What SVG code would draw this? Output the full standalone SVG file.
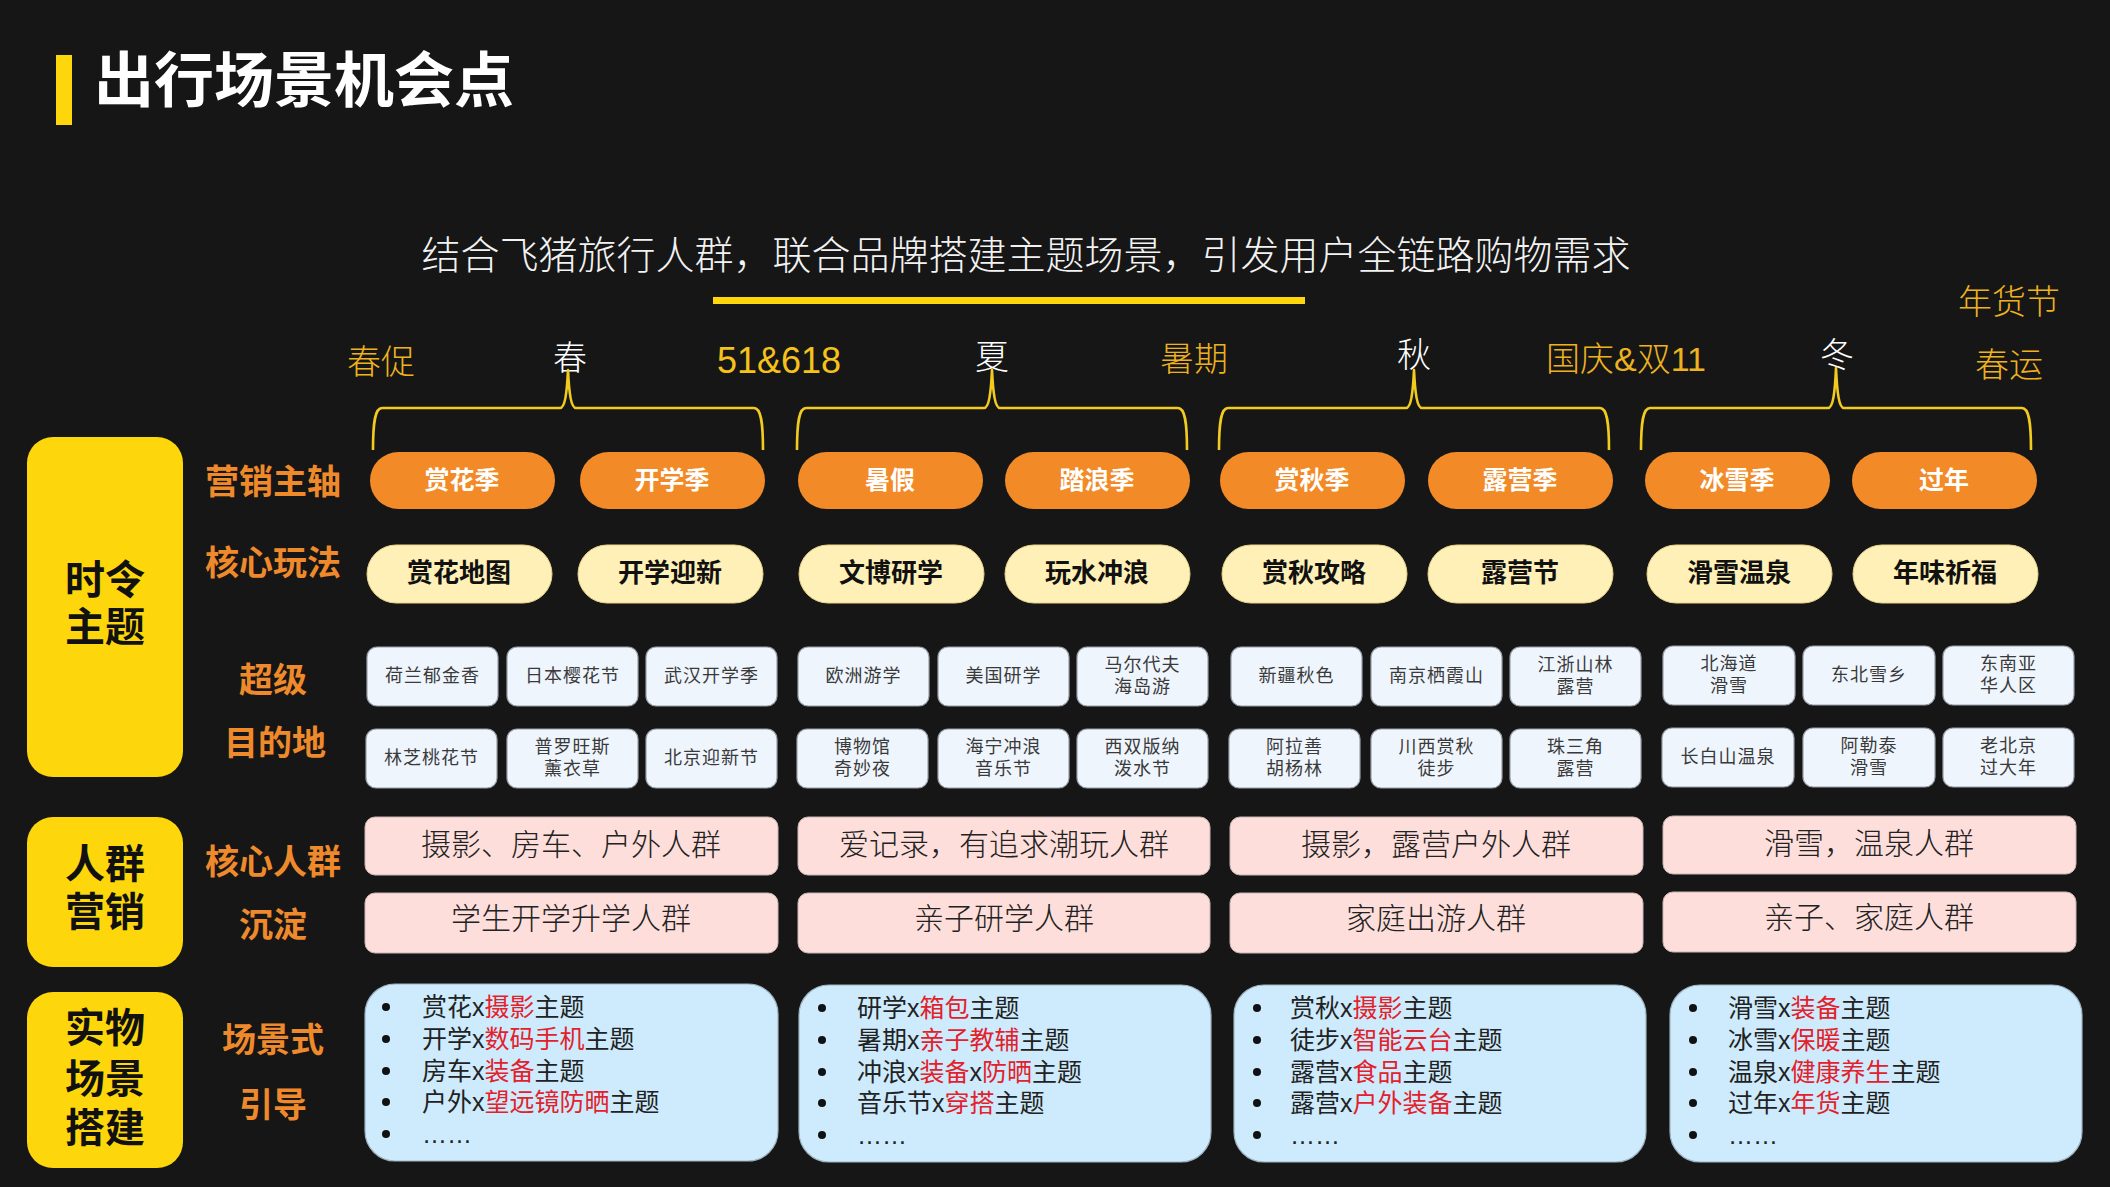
<svg xmlns="http://www.w3.org/2000/svg" width="2110" height="1187" viewBox="0 0 2110 1187">
<style>
text{font-family:"Liberation Sans","Noto Sans CJK SC",sans-serif}
.c{text-anchor:middle;dominant-baseline:central}
.title{font-size:60px;font-weight:700;fill:#fff}
.sub{font-size:39px;font-weight:300;fill:#f2f2f2}
.season{font-size:34px;font-weight:300;fill:#ffffff}
.promo{font-size:34px;font-weight:300;fill:#EDB21E}
.promo2{font-size:36px;fill:#F5C11B}
.lab{font-size:34px;font-weight:700;fill:#EE8A2B}
.big{font-size:40px;font-weight:700;fill:#111}
.ybox{fill:#FDD60B}
.op{fill:#F28A27}
.opt{font-size:25px;font-weight:700;fill:#fff}
.lp{fill:#FEF0B6;stroke:#E8D48A;stroke-width:1}
.lpt{font-size:26px;font-weight:700;fill:#111}
.dest{fill:#EFF5FD;stroke:#9aa0a8;stroke-width:1.2}
.dt{font-size:18px;fill:#3a3a3a;letter-spacing:1px}
.pink{fill:#FDDEDB;stroke:#c9b5b3;stroke-width:1}
.pt{font-size:30px;font-weight:300;fill:#222}
.list{fill:#CDEBFC;stroke:#9fb4c2;stroke-width:1.2}
.lt{font-size:25px;fill:#222}
.r{fill:#E3212B}
.brace{fill:none;stroke:#F2CB1F;stroke-width:2.6;stroke-linejoin:round}
</style>
<rect x="0" y="0" width="2110" height="1187" fill="#161616"/>

<g id="title">
<rect x="56" y="55" width="16" height="70" fill="#FDD60B"/>
<text class="title" x="94" y="102">出行场景机会点</text>
</g>
<g id="subtitle">
<text class="sub c" x="1026" y="255">结合飞猪旅行人群，联合品牌搭建主题场景，引发用户全链路购物需求</text>
<rect x="713" y="297" width="592" height="7" fill="#FDD60B"/>
</g>

<g id="season-labels">
<text class="promo c" x="381" y="362">春促</text>
<text class="season c" x="570" y="358">春</text>
<text class="promo2 c" x="779" y="360">51&amp;618</text>
<text class="season c" x="992" y="357">夏</text>
<text class="promo c" x="1194" y="359">暑期</text>
<text class="season c" x="1414" y="355">秋</text>
<text class="promo c" x="1626" y="359">国庆&amp;双11</text>
<text class="season c" x="1837" y="355">冬</text>
<text class="promo c" x="2009" y="302">年货节</text>
<text class="promo c" x="2009" y="365">春运</text>
</g>

<g id="connectors">
<path class="brace" d="M373,450 C373,422 375,408 382,408 L560,408 C565,408 567,392 568,370 C569,392 571,408 576,408 L754,408 C761,408 763,422 763,450"/>
<path class="brace" d="M797,450 C797,422 799,408 806,408 L984,408 C989,408 991,392 992,370 C993,392 995,408 1000,408 L1178,408 C1185,408 1187,422 1187,450"/>
<path class="brace" d="M1219,450 C1219,422 1221,408 1228,408 L1406,408 C1411,408 1413,392 1414,370 C1415,392 1417,408 1422,408 L1600,408 C1607,408 1609,422 1609,450"/>
<path class="brace" d="M1641,450 C1641,422 1643,408 1650,408 L1828,408 C1833,408 1835,392 1836,368 C1837,392 1839,408 1844,408 L2022,408 C2029,408 2031,422 2031,450"/>
</g>

<g id="left-category-boxes">
<g id="cat-shiling">
<rect class="ybox" x="27" y="437" width="156" height="340" rx="26"/>
<text class="big c" x="105" y="580">时令</text>
<text class="big c" x="105" y="627">主题</text>
</g>
<g id="cat-renqun">
<rect class="ybox" x="27" y="817" width="156" height="150" rx="26"/>
<text class="big c" x="105" y="864">人群</text>
<text class="big c" x="105" y="912">营销</text>
</g>
<g id="cat-shiwu">
<rect class="ybox" x="27" y="992" width="156" height="176" rx="26"/>
<text class="big c" x="105" y="1028">实物</text>
<text class="big c" x="105" y="1079">场景</text>
<text class="big c" x="105" y="1128">搭建</text>
</g>
</g>

<g id="row-labels">
<text class="lab c" x="273" y="482">营销主轴</text>
<text class="lab c" x="273" y="563">核心玩法</text>
<text class="lab c" x="273" y="680">超级</text>
<text class="lab c" x="275" y="743">目的地</text>
<text class="lab c" x="273" y="862">核心人群</text>
<text class="lab c" x="273" y="925">沉淀</text>
<text class="lab c" x="273" y="1040">场景式</text>
<text class="lab c" x="273" y="1105">引导</text>
</g>

<g id="marketing-axis">
<g id="ma1"><rect class="op" x="370" y="452" width="185" height="57" rx="28.5"/><text class="opt c" x="462" y="480">赏花季</text></g>
<g id="ma2"><rect class="op" x="580" y="452" width="185" height="57" rx="28.5"/><text class="opt c" x="672" y="480">开学季</text></g>
<g id="ma3"><rect class="op" x="798" y="452" width="185" height="57" rx="28.5"/><text class="opt c" x="890" y="480">暑假</text></g>
<g id="ma4"><rect class="op" x="1005" y="452" width="185" height="57" rx="28.5"/><text class="opt c" x="1097" y="480">踏浪季</text></g>
<g id="ma5"><rect class="op" x="1220" y="452" width="185" height="57" rx="28.5"/><text class="opt c" x="1312" y="480">赏秋季</text></g>
<g id="ma6"><rect class="op" x="1428" y="452" width="185" height="57" rx="28.5"/><text class="opt c" x="1520" y="480">露营季</text></g>
<g id="ma7"><rect class="op" x="1645" y="452" width="185" height="57" rx="28.5"/><text class="opt c" x="1737" y="480">冰雪季</text></g>
<g id="ma8"><rect class="op" x="1852" y="452" width="185" height="57" rx="28.5"/><text class="opt c" x="1944" y="480">过年</text></g>
</g>

<g id="core-play">
<g id="cp1"><rect class="lp" x="367" y="545" width="185" height="58" rx="29"/><text class="lpt c" x="459" y="573">赏花地图</text></g>
<g id="cp2"><rect class="lp" x="578" y="545" width="185" height="58" rx="29"/><text class="lpt c" x="670" y="573">开学迎新</text></g>
<g id="cp3"><rect class="lp" x="799" y="545" width="185" height="58" rx="29"/><text class="lpt c" x="891" y="573">文博研学</text></g>
<g id="cp4"><rect class="lp" x="1005" y="545" width="185" height="58" rx="29"/><text class="lpt c" x="1097" y="573">玩水冲浪</text></g>
<g id="cp5"><rect class="lp" x="1222" y="545" width="185" height="58" rx="29"/><text class="lpt c" x="1314" y="573">赏秋攻略</text></g>
<g id="cp6"><rect class="lp" x="1428" y="545" width="185" height="58" rx="29"/><text class="lpt c" x="1520" y="573">露营节</text></g>
<g id="cp7"><rect class="lp" x="1647" y="545" width="185" height="58" rx="29"/><text class="lpt c" x="1739" y="573">滑雪温泉</text></g>
<g id="cp8"><rect class="lp" x="1853" y="545" width="185" height="58" rx="29"/><text class="lpt c" x="1945" y="573">年味祈福</text></g>
</g>

<g id="destinations">
<g id="d1"><rect class="dest" x="367" y="647" width="131" height="59" rx="10"/><text class="dt c" x="432.5" y="676">荷兰郁金香</text></g>
<g id="d2"><rect class="dest" x="507" y="647" width="131" height="59" rx="10"/><text class="dt c" x="572.5" y="676">日本樱花节</text></g>
<g id="d3"><rect class="dest" x="646" y="647" width="131" height="59" rx="10"/><text class="dt c" x="711.5" y="676">武汉开学季</text></g>
<g id="d4"><rect class="dest" x="366" y="729" width="131" height="59" rx="10"/><text class="dt c" x="431.5" y="758">林芝桃花节</text></g>
<g id="d5"><rect class="dest" x="507" y="729" width="131" height="59" rx="10"/><text class="dt c" x="572.5" y="747">普罗旺斯</text><text class="dt c" x="572.5" y="769">薰衣草</text></g>
<g id="d6"><rect class="dest" x="646" y="729" width="131" height="59" rx="10"/><text class="dt c" x="711.5" y="758">北京迎新节</text></g>

<g id="d7"><rect class="dest" x="798" y="647" width="131" height="59" rx="10"/><text class="dt c" x="863.5" y="676">欧洲游学</text></g>
<g id="d8"><rect class="dest" x="938" y="647" width="131" height="59" rx="10"/><text class="dt c" x="1003.5" y="676">美国研学</text></g>
<g id="d9"><rect class="dest" x="1077" y="647" width="131" height="59" rx="10"/><text class="dt c" x="1142.5" y="665">马尔代夫</text><text class="dt c" x="1142.5" y="687">海岛游</text></g>
<g id="d10"><rect class="dest" x="797" y="729" width="131" height="59" rx="10"/><text class="dt c" x="862.5" y="747">博物馆</text><text class="dt c" x="862.5" y="769">奇妙夜</text></g>
<g id="d11"><rect class="dest" x="938" y="729" width="131" height="59" rx="10"/><text class="dt c" x="1003.5" y="747">海宁冲浪</text><text class="dt c" x="1003.5" y="769">音乐节</text></g>
<g id="d12"><rect class="dest" x="1077" y="729" width="131" height="59" rx="10"/><text class="dt c" x="1142.5" y="747">西双版纳</text><text class="dt c" x="1142.5" y="769">泼水节</text></g>

<g id="d13"><rect class="dest" x="1231" y="647" width="131" height="59" rx="10"/><text class="dt c" x="1296.5" y="676">新疆秋色</text></g>
<g id="d14"><rect class="dest" x="1371" y="647" width="131" height="59" rx="10"/><text class="dt c" x="1436.5" y="676">南京栖霞山</text></g>
<g id="d15"><rect class="dest" x="1510" y="647" width="131" height="59" rx="10"/><text class="dt c" x="1575.5" y="665">江浙山林</text><text class="dt c" x="1575.5" y="687">露营</text></g>
<g id="d16"><rect class="dest" x="1229" y="729" width="131" height="59" rx="10"/><text class="dt c" x="1294.5" y="747">阿拉善</text><text class="dt c" x="1294.5" y="769">胡杨林</text></g>
<g id="d17"><rect class="dest" x="1371" y="729" width="131" height="59" rx="10"/><text class="dt c" x="1436.5" y="747">川西赏秋</text><text class="dt c" x="1436.5" y="769">徒步</text></g>
<g id="d18"><rect class="dest" x="1510" y="729" width="131" height="59" rx="10"/><text class="dt c" x="1575.5" y="747">珠三角</text><text class="dt c" x="1575.5" y="769">露营</text></g>

<g id="d19"><rect class="dest" x="1663" y="646" width="132" height="59" rx="10"/><text class="dt c" x="1729" y="664">北海道</text><text class="dt c" x="1729" y="686">滑雪</text></g>
<g id="d20"><rect class="dest" x="1803" y="646" width="132" height="59" rx="10"/><text class="dt c" x="1869" y="675">东北雪乡</text></g>
<g id="d21"><rect class="dest" x="1943" y="646" width="131" height="59" rx="10"/><text class="dt c" x="2008.5" y="664">东南亚</text><text class="dt c" x="2008.5" y="686">华人区</text></g>
<g id="d22"><rect class="dest" x="1662" y="728" width="132" height="59" rx="10"/><text class="dt c" x="1728" y="757">长白山温泉</text></g>
<g id="d23"><rect class="dest" x="1803" y="728" width="132" height="59" rx="10"/><text class="dt c" x="1869" y="746">阿勒泰</text><text class="dt c" x="1869" y="768">滑雪</text></g>
<g id="d24"><rect class="dest" x="1943" y="728" width="131" height="59" rx="10"/><text class="dt c" x="2008.5" y="746">老北京</text><text class="dt c" x="2008.5" y="768">过大年</text></g>
</g>

<g id="crowds">
<g id="cr1"><rect class="pink" x="365" y="817" width="413" height="58" rx="10"/><text class="pt c" x="571" y="844">摄影、房车、户外人群</text></g>
<g id="cr2"><rect class="pink" x="365" y="893" width="413" height="60" rx="10"/><text class="pt c" x="571" y="918">学生开学升学人群</text></g>
<g id="cr3"><rect class="pink" x="798" y="817" width="412" height="58" rx="10"/><text class="pt c" x="1004" y="844">爱记录，有追求潮玩人群</text></g>
<g id="cr4"><rect class="pink" x="798" y="893" width="412" height="60" rx="10"/><text class="pt c" x="1004" y="918">亲子研学人群</text></g>
<g id="cr5"><rect class="pink" x="1230" y="817" width="413" height="58" rx="10"/><text class="pt c" x="1436" y="844">摄影，露营户外人群</text></g>
<g id="cr6"><rect class="pink" x="1230" y="893" width="413" height="60" rx="10"/><text class="pt c" x="1436" y="918">家庭出游人群</text></g>
<g id="cr7"><rect class="pink" x="1663" y="816" width="413" height="58" rx="10"/><text class="pt c" x="1869" y="843">滑雪，温泉人群</text></g>
<g id="cr8"><rect class="pink" x="1663" y="892" width="413" height="60" rx="10"/><text class="pt c" x="1869" y="917">亲子、家庭人群</text></g>
</g>

<g id="scene-lists">
<g id="sl1">
<rect class="list" x="365" y="984" width="413" height="177" rx="30"/>
<g fill="#111"><circle cx="386" cy="1007" r="4"/><circle cx="386" cy="1039" r="4"/><circle cx="386" cy="1071" r="4"/><circle cx="386" cy="1102" r="4"/><circle cx="386" cy="1134" r="4"/></g>
<text class="lt" x="422" y="1016">赏花x<tspan class="r">摄影</tspan>主题</text>
<text class="lt" x="422" y="1048">开学x<tspan class="r">数码手机</tspan>主题</text>
<text class="lt" x="422" y="1080">房车x<tspan class="r">装备</tspan>主题</text>
<text class="lt" x="422" y="1111">户外x<tspan class="r">望远镜防晒</tspan>主题</text>
<text class="lt" x="422" y="1143">……</text>
</g>
<g id="sl2">
<rect class="list" x="799" y="985" width="412" height="177" rx="30"/>
<g fill="#111"><circle cx="822" cy="1008" r="4"/><circle cx="822" cy="1040" r="4"/><circle cx="822" cy="1072" r="4"/><circle cx="822" cy="1103" r="4"/><circle cx="822" cy="1135" r="4"/></g>
<text class="lt" x="857" y="1017">研学x<tspan class="r">箱包</tspan>主题</text>
<text class="lt" x="857" y="1049">暑期x<tspan class="r">亲子教辅</tspan>主题</text>
<text class="lt" x="857" y="1081">冲浪x<tspan class="r">装备</tspan>x<tspan class="r">防晒</tspan>主题</text>
<text class="lt" x="857" y="1112">音乐节x<tspan class="r">穿搭</tspan>主题</text>
<text class="lt" x="857" y="1144">……</text>
</g>
<g id="sl3">
<rect class="list" x="1234" y="985" width="412" height="177" rx="30"/>
<g fill="#111"><circle cx="1257" cy="1008" r="4"/><circle cx="1257" cy="1040" r="4"/><circle cx="1257" cy="1072" r="4"/><circle cx="1257" cy="1103" r="4"/><circle cx="1257" cy="1135" r="4"/></g>
<text class="lt" x="1290" y="1017">赏秋x<tspan class="r">摄影</tspan>主题</text>
<text class="lt" x="1290" y="1049">徒步x<tspan class="r">智能云台</tspan>主题</text>
<text class="lt" x="1290" y="1081">露营x<tspan class="r">食品</tspan>主题</text>
<text class="lt" x="1290" y="1112">露营x<tspan class="r">户外装备</tspan>主题</text>
<text class="lt" x="1290" y="1144">……</text>
</g>
<g id="sl4">
<rect class="list" x="1670" y="985" width="412" height="177" rx="30"/>
<g fill="#111"><circle cx="1693" cy="1008" r="4"/><circle cx="1693" cy="1040" r="4"/><circle cx="1693" cy="1072" r="4"/><circle cx="1693" cy="1103" r="4"/><circle cx="1693" cy="1135" r="4"/></g>
<text class="lt" x="1728" y="1017">滑雪x<tspan class="r">装备</tspan>主题</text>
<text class="lt" x="1728" y="1049">冰雪x<tspan class="r">保暖</tspan>主题</text>
<text class="lt" x="1728" y="1081">温泉x<tspan class="r">健康养生</tspan>主题</text>
<text class="lt" x="1728" y="1112">过年x<tspan class="r">年货</tspan>主题</text>
<text class="lt" x="1728" y="1144">……</text>
</g>
</g>
</svg>
